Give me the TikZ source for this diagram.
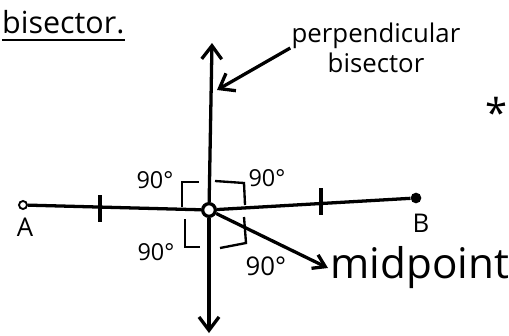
\documentclass[tikz,border=0pt]{standalone}
\usepackage{fontspec}
\setmainfont{Open Sans}
\usetikzlibrary{arrows.meta}

\begin{document}
\begin{tikzpicture}[x=0.03cm,y=-0.03cm,
  >={Straight Barb[length=0.4cm,width=0.6cm]},
  line/.style={line width=2.8pt},
  rightang/.style={line width=2pt},
  opendot/.style={circle,draw,fill=white,inner sep=0pt,line width=1.6pt,minimum size=0.24cm},
  fulldot/.style={circle,fill,inner sep=0pt,minimum size=0.32cm},
  lbl/.style={font=\fontsize{22}{26}\selectfont,inner sep=1pt}]
\useasboundingbox (0,0) rectangle (509,335);
\clip (0,0) rectangle (509,335);
\node[anchor=west,inner sep=0pt,font=\fontsize{26}{28}\selectfont] (title) at (2,22) {bisector.};
\draw[line width=1.8pt] ([yshift=-5pt]title.south west) -- ([yshift=-5pt]title.south east);
\node[opendot] (A) at (23,205) {};
\node[fulldot] (B) at (416,198) {};
\node[opendot,line width=2.8pt,minimum size=0.38cm] (M) at (209,210) {};
\draw[line] (A) -- (M);
\draw[line] (M) -- (B);
\draw[line] (100,195) -- (100,222);
\draw[line] (321,188) -- (321,215);
\coordinate (top) at (212,43);
\coordinate (bot) at (209,333);
\draw[line,->] (M) -- (top);
\draw[line,->] (M) -- (bot);
\node[lbl] (A label) at (25,227) {A};
\node[lbl] (B label) at (421,223) {B};
\draw[rightang] (182,207) -- (182,182) -- (199,182);
\draw[rightang] (215,181) -- (244,183) -- (245,205);
\draw[rightang] (185,219) -- (185,247) -- (200,247);
\draw[rightang] (244,217) -- (246,243) -- (220,248);
\node[lbl,font=\fontsize{20}{22}\selectfont] (ul) at (155,180) {90°};
\node[lbl,font=\fontsize{20}{22}\selectfont] (ur) at (267,178) {90°};
\node[lbl,font=\fontsize{20}{22}\selectfont] (ll) at (156,252) {90°};
\node[lbl,font=\fontsize{22}{24}\selectfont] (lr) at (266,266) {90°};
\node[anchor=west,inner sep=2pt,font=\fontsize{36}{40}\selectfont] (mid) at (328,268) {midpoint};
\draw[line,-{Straight Barb[length=0.35cm,width=0.45cm]}] (M) -- (mid.west);
\node[lbl,align=center] (perp) at (376,48) {perpendicular\\bisector};
\coordinate (pb) at (217,90);
\draw[line,->] (perp.west) -- (pb);
\node[font=\fontsize{34}{36}\selectfont,inner sep=0pt] (star) at (496,112) {*};
\end{tikzpicture}
\end{document}
